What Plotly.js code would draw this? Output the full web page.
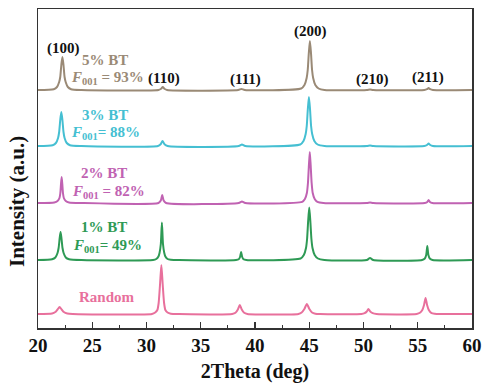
<!DOCTYPE html>
<html>
<head>
<meta charset="utf-8">
<script src="https://cdn.plot.ly/plotly-3.0.1.min.js"></script>
<style>html,body{margin:0;padding:0;background:#fff;}#chart{width:493px;height:389px;}</style>
</head>
<body>
<div id="chart"></div>
<script>
// XRD patterns (intensity above each curve's own baseline, a.u.)
var seriesNames = ["Random", "1% BT", "2% BT", "3% BT", "5% BT"];
var seriesOffsets = [14, 68, 125, 182, 238];
var seriesColors = ["#e8709c", "#2e9a55", "#c062b2", "#45bfd2", "#9a8a76"];

var x5 = [20, 21.45, 21.75, 21.95, 22.05, 22.15, 22.25, 22.35, 22.45, 22.55, 22.75, 23.05, 24,
          31.1, 31.35, 31.5, 31.65, 31.9, 38.45, 38.75, 39.05,
          44.26, 44.56, 44.76, 44.86, 44.96, 45.06, 45.16, 45.26, 45.36, 45.56, 45.86, 46.4,
          50.3, 50.6, 50.9, 55.6, 55.85, 56.0, 56.15, 56.4, 60];
var y5 = [0, 0.8, 3, 8, 13, 25, 33, 25, 13, 8, 3, 0.8, 0,
          0, 1.2, 3, 1.2, 0, 0, 1, 0,
          1.5, 5, 12, 20, 37, 49, 37, 20, 12, 5, 1.5, 0,
          0, 0.6, 0, 0, 0.8, 2, 0.8, 0, 0];

var x3 = [20, 21.35, 21.65, 21.85, 21.95, 22.05, 22.15, 22.25, 22.35, 22.45, 22.65, 22.95, 24,
          31.05, 31.3, 31.48, 31.66, 31.95, 38.5, 38.8, 39.1,
          44.17, 44.47, 44.67, 44.77, 44.87, 44.97, 45.07, 45.17, 45.27, 45.47, 45.77, 46.4,
          50.3, 50.6, 50.9, 55.6, 55.85, 56.0, 56.15, 56.4, 60];
var y3 = [0, 0.8, 3, 8, 14, 26, 34, 26, 14, 8, 3, 0.8, 0,
          0, 1.8, 5, 1.8, 0, 0, 1.5, 0,
          1.5, 5, 12, 20, 37, 49, 37, 20, 12, 5, 1.5, 0,
          0, 0.6, 0, 0, 1, 2.5, 1, 0, 0];

var x2 = [20, 21.5, 21.8, 21.98, 22.06, 22.12, 22.18, 22.24, 22.3, 22.38, 22.56, 22.86, 24,
          31.1, 31.32, 31.45, 31.58, 31.8, 38.5, 38.8, 39.1,
          44.35, 44.6, 44.78, 44.88, 44.97, 45.05, 45.13, 45.22, 45.32, 45.5, 45.75, 46.3,
          50.3, 50.6, 50.9, 55.65, 55.88, 56.0, 56.12, 56.35, 60];
var y2 = [0, 0.6, 2, 5, 10, 19, 26, 19, 10, 5, 2, 0.6, 0,
          0, 2.5, 8, 2.5, 0, 0, 1.5, 0,
          1.2, 4, 10, 20, 38, 51, 38, 20, 10, 4, 1.2, 0,
          0, 0.6, 0, 0, 1, 3, 1, 0, 0];

var x1 = [20, 21.3, 21.6, 21.8, 21.9, 22.0, 22.08, 22.16, 22.26, 22.36, 22.56, 22.86, 24,
          30.6, 30.9, 31.1, 31.2, 31.32, 31.42, 31.52, 31.64, 31.74, 31.94, 32.24, 33,
          38.25, 38.5, 38.62, 38.72, 38.82, 38.94, 39.2,
          44.2, 44.5, 44.7, 44.8, 44.9, 45.0, 45.1, 45.2, 45.3, 45.5, 45.8, 46.4,
          50.3, 50.6, 50.9, 55.4, 55.65, 55.78, 55.88, 55.98, 56.11, 56.36, 60];
var y1 = [0, 0.8, 2.5, 7, 12, 22, 28, 22, 12, 7, 2.5, 0.8, 0,
          0, 1, 3.5, 7, 16, 37.5, 16, 7, 3.5, 1, 0.3, 0,
          0, 0.8, 3, 8, 3, 0.8, 0,
          1.5, 5, 12, 21, 39, 52.5, 39, 21, 12, 5, 1.5, 0,
          0, 2, 0, 0, 1.5, 5, 14, 5, 1.5, 0, 0];

var x0 = [20, 21.3, 21.6, 21.8, 21.99, 22.18, 22.38, 22.7, 23.2,
          30.5, 30.8, 31.0, 31.12, 31.25, 31.37, 31.49, 31.62, 31.74, 31.94, 32.24, 33,
          37.9, 38.2, 38.42, 38.6, 38.78, 39.0, 39.3,
          44.0, 44.3, 44.55, 44.78, 45.01, 45.26, 45.56, 46.0,
          49.8, 50.1, 50.3, 50.45, 50.62, 50.85, 51.2,
          54.9, 55.2, 55.42, 55.58, 55.72, 55.86, 56.02, 56.24, 56.55, 57.1, 60];
var y0 = [0, 0.5, 2, 4.5, 7, 4.5, 2, 0.5, 0,
          0, 1.5, 4, 11, 30, 49, 30, 11, 4, 1.5, 0.3, 0,
          0, 1.2, 4.5, 9, 4.5, 1.2, 0,
          0, 1.5, 5, 10, 5, 1.5, 0.3, 0,
          0, 0.8, 2.5, 5, 2.5, 0.8, 0,
          0, 1.2, 4, 9, 16, 9, 4, 1.2, 0.3, 0, 0];

var xData = [x0, x1, x2, x3, x5];
var yData = [y0, y1, y2, y3, y5];

var tickVals = [20, 25, 30, 35, 40, 45, 50, 55, 60];
var tickText = ["20", "25", "30", "35", "40", "45", "50", "55", "60"];

var planeLabels = ["(100)", "(110)", "(111)", "(200)", "(210)", "(211)"];
var planeX = [22.37, 31.6, 39.1, 45.07, 50.85, 55.9];
var planeY = [280, 250, 249, 297, 249, 251];

var sampleLabels = ["Random", "1% BT", "2% BT", "3% BT", "5% BT"];
var fractionLabels = ["", "<i>F</i><sub>001</sub>= 49%", "<i>F</i><sub>001</sub> = 82%", "<i>F</i><sub>001</sub>= 88%", "<i>F</i><sub>001</sub> = 93%"];
var nameX = [26.4, 26.1, 26.1, 26.2, 26.13];
var nameY = [31, 101, 155, 213, 268];
var fracX = [0, 26.45, 26.5, 26.2, 26.37];
var fracY = [0, 82, 136, 195, 250];

var FONT = "'Liberation Serif', 'Times New Roman', serif";

var traces = [];
for (var i = 0; i < xData.length; i++) {
  traces.push({
    x: xData[i],
    y: yData[i].map(function (v) { return v + seriesOffsets[i]; }),
    type: "scatter",
    mode: "lines",
    name: seriesNames[i],
    line: {color: seriesColors[i], width: 2, shape: "spline", smoothing: 0.6},
    hoverinfo: "skip"
  });
}

var ann = [];
for (var k = 0; k < planeLabels.length; k++) {
  ann.push({x: planeX[k], y: planeY[k], xref: "x", yref: "y", text: "<b>" + planeLabels[k] + "</b>",
    showarrow: false, font: {family: FONT, size: 15, color: "#111"}});
}
for (var j = 0; j < sampleLabels.length; j++) {
  ann.push({x: nameX[j], y: nameY[j], xref: "x", yref: "y", text: "<b>" + sampleLabels[j] + "</b>",
    showarrow: false, font: {family: FONT, size: 15, color: seriesColors[j]}});
  if (fractionLabels[j]) {
    ann.push({x: fracX[j], y: fracY[j], xref: "x", yref: "y", text: "<b>" + fractionLabels[j] + "</b>",
      showarrow: false, font: {family: FONT, size: 15, color: seriesColors[j]}});
  }
}
// y-axis title placed as a rotated annotation (it sits below the axis centre in the reference)
var plotW = 493 - 38 - 21, plotH = 389 - 9 - 61;
ann.push({x: (17 - 38) / plotW, y: (328 - 202) / plotH, xref: "paper", yref: "paper",
  xanchor: "center", yanchor: "middle",
  text: "<b>Intensity (a.u.)</b>",
  showarrow: false, textangle: -90, font: {family: FONT, size: 21, color: "#111"}});

var layout = {
  width: 493, height: 389,
  margin: {l: 38, r: 21, t: 9, b: 61},
  paper_bgcolor: "#fff", plot_bgcolor: "#fff",
  showlegend: false,
  font: {family: FONT, color: "#111"},
  xaxis: {
    range: [20, 60], tickvals: tickVals, ticktext: tickText,
    ticks: "inside", ticklen: 6, tickwidth: 1.2, tickcolor: "#333",
    minor: {ticks: "inside", dtick: 2.5, tick0: 20, ticklen: 3, tickwidth: 1.2, tickcolor: "#333"},
    showline: true, linecolor: "#333", linewidth: 1.5, mirror: true,
    showgrid: false, zeroline: false,
    tickfont: {family: FONT, size: 19, color: "#111", weight: 700},
    title: {text: "<b>2Theta (deg)</b>", font: {family: FONT, size: 20, color: "#111"}, standoff: 8}
  },
  yaxis: {
    range: [0, 319], showticklabels: false, ticks: "",
    showline: true, linecolor: "#333", linewidth: 1.5, mirror: true,
    showgrid: false, zeroline: false
  },
  annotations: ann
};

Plotly.newPlot("chart", traces, layout, {displayModeBar: false, staticPlot: true});
</script>
</body>
</html>
